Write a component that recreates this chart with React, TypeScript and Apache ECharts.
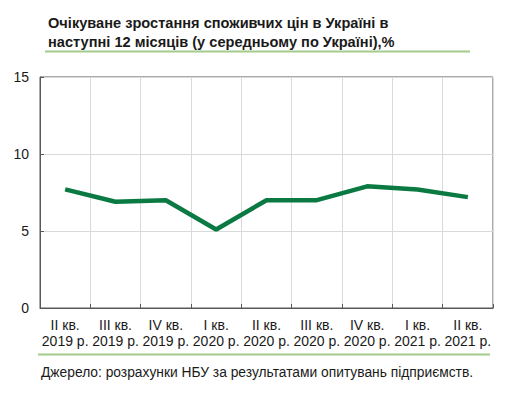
import React, { useEffect, useRef } from "react";
import * as echarts from "echarts";

const categories = [
  "II кв.\n2019 р.",
  "III кв.\n2019 р.",
  "IV кв.\n2019 р.",
  "I кв.\n2020 р.",
  "II кв.\n2020 р.",
  "III кв.\n2020 р.",
  "IV кв.\n2020 р.",
  "I кв.\n2021 р.",
  "II кв.\n2021 р.",
];
const expectations = [7.7, 6.9, 7.0, 5.1, 7.0, 7.0, 7.9, 7.7, 7.2];
const titleLines = [
  "Очікуване зростання споживчих цін в Україні в",
  "наступні 12 місяців (у середньому по Україні),%",
];
const sourceText = "Джерело: розрахунки НБУ за результатами опитувань підприємств.";

const FONT = "'Liberation Sans', Arial, sans-serif";

export default function App() {
  const ref = useRef<HTMLDivElement>(null);
  useEffect(() => {
    if (!ref.current) return;
    const chart = echarts.init(ref.current, undefined, { renderer: "svg" });
    chart.setOption({
      animation: false,
      backgroundColor: "#ffffff",
      grid: {
        left: 40,
        right: 29,
        top: 77,
        bottom: 85,
        containLabel: false,
        outerBoundsMode: "none",
        show: true,
        borderColor: "#595959",
        borderWidth: 1,
      },
      xAxis: {
        type: "category",
        data: categories,
        boundaryGap: true,
        axisLine: { show: true, lineStyle: { color: "#595959", width: 1 } },
        axisTick: { show: true, inside: true, length: 4, lineStyle: { color: "#595959" } },
        splitLine: { show: true, lineStyle: { color: "#d9d9d9", width: 1 } },
        axisLabel: {
          color: "#1a1a1a",
          fontFamily: FONT,
          fontSize: 14,
          lineHeight: 16,
          margin: 9,
          interval: 0,
        },
      },
      yAxis: {
        type: "value",
        min: 0,
        max: 15,
        interval: 5,
        axisLine: { show: true, lineStyle: { color: "#595959", width: 1 } },
        axisTick: { show: true, inside: true, length: 4, lineStyle: { color: "#595959" } },
        splitLine: { show: true, lineStyle: { color: "#d9d9d9", width: 1 } },
        axisLabel: {
          color: "#1a1a1a",
          fontFamily: FONT,
          fontSize: 14,
          margin: 11,
        },
      },
      series: [
        {
          type: "line",
          data: expectations,
          symbol: "none",
          lineStyle: { color: "#0a7a42", width: 4.5 },
        },
      ],
      graphic: [
        {
          type: "text",
          left: 48,
          top: 13,
          style: {
            text: titleLines.join("\n"),
            font: `bold 14.6px ${FONT}`,
            lineHeight: 19,
            fill: "#1a1a1a",
          },
        },
        {
          type: "line",
          shape: { x1: 45, y1: 51.5, x2: 470, y2: 51.5 },
          style: { stroke: "#a3cc8a", lineWidth: 2 },
        },
        {
          type: "line",
          shape: { x1: 38, y1: 354.5, x2: 490, y2: 354.5 },
          style: { stroke: "#a3cc8a", lineWidth: 2 },
        },
        {
          type: "text",
          left: 41,
          top: 365,
          style: {
            text: sourceText,
            font: `13.8px ${FONT}`,
            fill: "#1a1a1a",
          },
        },
      ],
    });
    return () => chart.dispose();
  }, []);
  return <div ref={ref} style={{ width: 522, height: 393, margin: -8 }} />;
}
